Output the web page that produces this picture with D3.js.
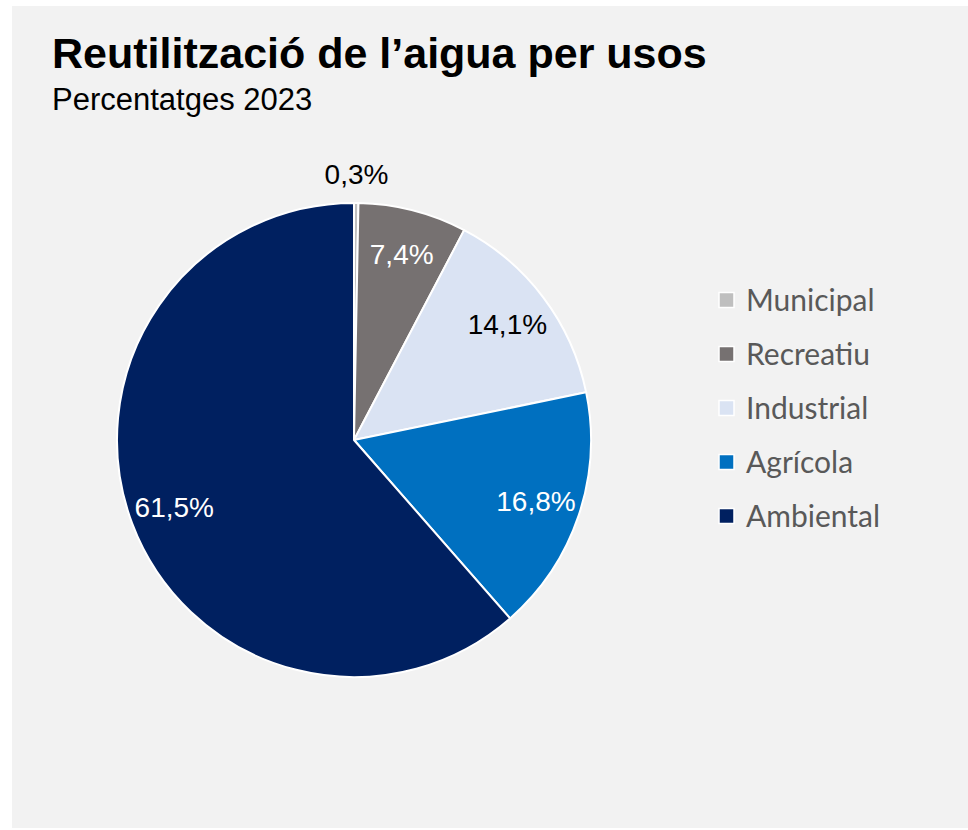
<!DOCTYPE html>
<html>
<head>
<meta charset="utf-8">
<script src="https://cdn.jsdelivr.net/npm/d3@7"></script>
<style>
  body { margin: 0; background: #ffffff; }
  svg { display: block; }
</style>
</head>
<body>
<svg width="968" height="830"></svg>
<script>
// Dades (percentatges 2023)
var categories = ["Municipal", "Recreatiu", "Industrial", "Agrícola", "Ambiental"];
var values = [0.3, 7.4, 14.1, 16.8, 61.5];
var labels = ["0,3%", "7,4%", "14,1%", "16,8%", "61,5%"];
var colors = ["#bfbfbf", "#767171", "#dae3f3", "#0070c0", "#002060"];
var labelColors = ["#000000", "#ffffff", "#000000", "#ffffff", "#ffffff"];

var svg = d3.select("svg");

// background panel
svg.append("rect")
  .attr("x", 12)
  .attr("y", 6)
  .attr("width", 956)
  .attr("height", 822)
  .attr("fill", "#f2f2f2");

// title + subtitle
svg.append("text")
  .attr("x", 52)
  .attr("y", 68)
  .style("font-family", "'Liberation Sans', Arial, sans-serif")
  .style("font-weight", "bold")
  .style("font-size", "43px")
  .attr("fill", "#000")
  .text("Reutilització de l’aigua per usos");

svg.append("text")
  .attr("x", 52)
  .attr("y", 110)
  .style("font-family", "'Liberation Sans', Arial, sans-serif")
  .style("font-size", "31px")
  .attr("fill", "#000")
  .text("Percentatges 2023");

// pie
var cx = 354, cy = 440, radius = 237;

var data = categories.map(function (c, i) {
  return { name: c, value: values[i], label: labels[i], color: colors[i], labelColor: labelColors[i] };
});

var pie = d3.pie()
  .sort(null)
  .value(function (d) { return d.value; });

var arc = d3.arc().innerRadius(0).outerRadius(radius);
var labelArc = d3.arc().innerRadius(192).outerRadius(192);
var outerLabelArc = d3.arc().innerRadius(266).outerRadius(266);

var g = svg.append("g")
  .attr("transform", "translate(" + cx + "," + cy + ")");

var arcs = pie(data);

g.selectAll("path")
  .data(arcs)
  .enter()
  .append("path")
  .attr("d", arc)
  .attr("fill", function (d) { return d.data.color; })
  .attr("stroke", "#ffffff")
  .attr("stroke-width", 2)
  .attr("stroke-linejoin", "round");

g.selectAll(".slice-label")
  .data(arcs)
  .enter()
  .append("text")
  .attr("class", "slice-label")
  .attr("transform", function (d) {
    // tiny slice gets its label outside the pie
    var p = d.data.value < 1 ? outerLabelArc.centroid(d) : labelArc.centroid(d);
    return "translate(" + p[0] + "," + p[1] + ")";
  })
  .attr("text-anchor", "middle")
  .attr("dy", "0.35em")
  .style("font-family", "'Liberation Sans', Arial, sans-serif")
  .style("font-size", "28px")
  .attr("fill", function (d) { return d.data.labelColor; })
  .text(function (d) { return d.data.label; });

// legend
var legend = svg.append("g")
  .attr("transform", "translate(718,300)");

var rows = legend.selectAll(".row")
  .data(data)
  .enter()
  .append("g")
  .attr("class", "row")
  .attr("transform", function (d, i) { return "translate(0," + i * 54 + ")"; });

rows.append("rect")
  .attr("x", 1)
  .attr("y", -7.5)
  .attr("width", 15)
  .attr("height", 15)
  .attr("fill", function (d) { return d.color; })
  .attr("stroke", "#ffffff")
  .attr("stroke-width", 1.5);

rows.append("text")
  .attr("x", 28)
  .attr("dy", "0.36em")
  .style("font-family", "Lato, 'Open Sans', sans-serif")
  .style("font-size", "30px")
  .attr("fill", "#595959")
  .text(function (d) { return d.name; });
</script>
</body>
</html>
